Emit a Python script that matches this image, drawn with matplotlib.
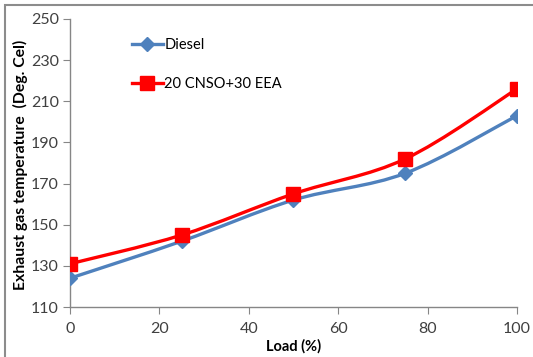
import matplotlib.pyplot as plt
import numpy as np
from matplotlib.path import Path
from matplotlib.patches import PathPatch, Rectangle
from matplotlib.lines import Line2D

load = [0, 25, 50, 75, 100]
diesel = [124, 142, 162, 175, 203]
blend = [131, 145, 165, 182, 216]

BLUE = "#4F81BD"
RED = "#FF0000"
GREY = "#868686"

plt.rcParams["font.family"] = ["Lato", "DejaVu Sans"]


def smooth_path(xs, ys, k=1 / 6):
    """Excel-style smoothed line as cubic Bezier segments (Catmull-Rom)."""
    p = np.column_stack([xs, ys]).astype(float)
    verts = [p[0]]
    codes = [Path.MOVETO]
    n = len(p)
    for i in range(n - 1):
        p0 = p[i - 1] if i > 0 else p[i]
        p3 = p[i + 2] if i + 2 < n else p[i + 1]
        c1 = p[i] + (p[i + 1] - p0) * k
        c2 = p[i + 1] - (p3 - p[i]) * k
        verts += [c1, c2, p[i + 1]]
        codes += [Path.CURVE4] * 3
    return Path(verts, codes)


fig = plt.figure(figsize=(5.33, 3.57), dpi=100)
ax = fig.add_axes([0.1313, 0.140, 0.8387, 0.807])

for ys, col, mk, ms in [(diesel, BLUE, "D", 7.5), (blend, RED, "s", 10)]:
    ax.add_patch(PathPatch(smooth_path(load, ys), facecolor="none",
                           edgecolor=col, lw=2.4, zorder=2))
    ax.plot(load, ys, linestyle="none", marker=mk, markersize=ms,
            color=col, zorder=3)

ax.set_xlim(0, 100)
ax.set_ylim(110, 250)
ax.set_xticks(range(0, 101, 20))
ax.set_yticks(range(110, 251, 20))
for s in ("top", "right"):
    ax.spines[s].set_visible(False)
for s in ("left", "bottom"):
    ax.spines[s].set_color(GREY)
    ax.spines[s].set_linewidth(1.0)
ax.tick_params(direction="out", length=5, color=GREY, labelsize=11.5,
               labelcolor="#404040")
ax.tick_params(axis="y", pad=3)
ax.tick_params(axis="x", pad=6)

ax.set_xlabel("Load (%)", fontsize=10.5, fontweight="bold", labelpad=2)
ax.set_ylabel("Exhaust gas temperature  (Deg. Cel)", fontsize=11.3,
              fontweight="bold")
ax.yaxis.set_label_coords(-0.094, 0.493)

handles = [
    Line2D([], [], color=BLUE, lw=2.4, marker="D", markersize=7.5),
    Line2D([], [], color=RED, lw=2.4, marker="s", markersize=10),
]
ax.legend(handles, ["Diesel", "20 CNSO+30 EEA"], loc="upper left",
          bbox_to_anchor=(0.126, 0.955), frameon=False, fontsize=10.5,
          handlelength=2.1, handletextpad=0.1, labelspacing=1.75,
          borderaxespad=0)

fig.patches.append(Rectangle((5 / 533, -0.1), 1.2, 1 - 5 / 357 + 0.1,
                             transform=fig.transFigure, fill=False,
                             edgecolor="#8C8C8C", lw=1.5, zorder=0))

fig.savefig("out.png", dpi=100)
